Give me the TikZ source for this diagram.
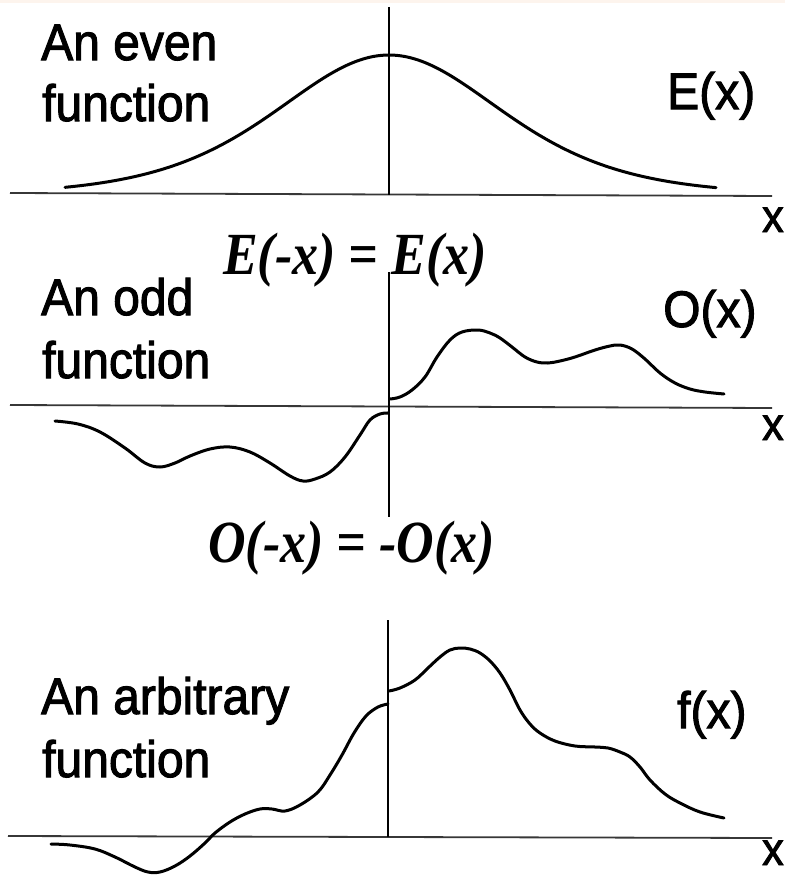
\documentclass[tikz,border=0pt]{standalone}
\usepackage{fontspec}
\setmainfont{Liberation Serif}
\newfontfamily\helv[FakeBold=2]{Liberation Sans}
\newfontfamily\tnr{Liberation Serif}
\definecolor{axisgray}{RGB}{55,55,55}
\definecolor{peach}{RGB}{253,244,237}
\begin{document}
\begin{tikzpicture}[x=1pt,y=-1pt,
  lab/.style={font=\helv\fontsize{48}{48}\selectfont, inner sep=0pt, anchor=base west, yscale=1.07},
  xlab/.style={font=\helv\fontsize{43}{43}\selectfont, inner sep=0pt, anchor=base west, yscale=1.07},
  eqlab/.style={font=\tnr\bfseries\itshape\fontsize{52}{52}\selectfont, inner sep=0pt, anchor=base, yscale=1.15},
  curve/.style={line width=3pt, line join=round, line cap=round},
  haxis/.style={line width=1.8pt, draw=axisgray},
  vaxis/.style={line width=1.2pt, draw=black}]
\useasboundingbox (0,0) rectangle (785,875);
\fill[white] (0,0) rectangle (785,875);
\fill[peach] (0,0) rectangle (785,3.5);

% ---------- Panel 1: even function ----------
\coordinate (o1) at (389,195);
\coordinate (a1l) at (10,193);
\coordinate (a1r) at (772,196);
\coordinate (v1t) at (389,7);
\draw[haxis] (a1l) -- (a1r);
\draw[vaxis] (v1t) -- (o1);
\draw[curve] plot[domain=65:716, samples=140, smooth]
  (\x, {195 - 560/(exp((\x-389)/152)+exp(-(\x-389)/152))^2});
\node[lab] (even1) at (41,60) {An even};
\node[lab] (even2) at (42,121) {function};
\node[lab] (Ex) at (667,109) {E(x)};
\node[xlab] (x1) at (762,232) {x};
\node[eqlab] (eqE) at (355,274) {E(-x) = E(x)};

% ---------- Panel 2: odd function ----------
\coordinate (o2) at (389,406);
\coordinate (a2l) at (10,405);
\coordinate (a2r) at (772,408);
\coordinate (v2t) at (389,272);
\coordinate (v2b) at (389,517);
\draw[haxis] (a2l) -- (a2r);
\draw[vaxis] (v2t) -- (v2b);
\draw[curve] plot[smooth, tension=0.6] coordinates {
  (390,399) (400,397) (412,390) (425,377) (437,357) (450,340) (462,332)
  (478,330) (490,333) (500,338) (512,347) (525,357) (537,362) (548,363)
  (560,361) (575,357) (595,350) (610,346) (620,345) (632,349) (645,359)
  (660,373) (675,383) (690,389) (705,392) (724,394)};
\draw[curve] plot[smooth, tension=0.6] coordinates {
  (388,413) (380,414) (370,420) (360,435) (345,457) (330,472) (315,479)
  (303,481) (290,476) (270,463) (250,452) (230,447) (210,449) (190,456)
  (175,463) (160,467) (145,463) (125,448) (100,432) (78,424) (55,421)};
\node[lab] (odd1) at (41,315) {An odd};
\node[lab] (odd2) at (42,378) {function};
\node[lab] (Ox) at (663,327) {O(x)};
\node[xlab] (x2) at (762,440) {x};
\node[eqlab] (eqO) at (351.5,562) {O(-x) = -O(x)};

% ---------- Panel 3: arbitrary function ----------
\coordinate (o3) at (388,837);
\coordinate (a3l) at (8,836);
\coordinate (a3r) at (772,838);
\coordinate (v3t) at (388,620);
\draw[haxis] (a3l) -- (a3r);
\draw[vaxis] (v3t) -- (o3);
\draw[curve] plot[smooth, tension=0.6] coordinates {
  (389,691) (400,688) (415,680) (428,668) (440,657) (450,650) (460,648)
  (470,649) (480,653) (490,661) (500,673) (510,690) (520,710) (530,724)
  (540,733) (555,741) (575,746) (595,747) (608,748) (620,752) (630,757)
  (640,767) (650,780) (665,794) (680,803) (700,812) (724,818)};
\draw[curve] plot[smooth, tension=0.6] coordinates {
  (388,704) (378,707) (366,716) (354,733) (342,755) (330,775) (318,792)
  (300,805) (285,811) (272,809) (260,809) (245,814) (230,822) (215,833)
  (205,843) (190,856) (175,866) (160,872) (148,872) (135,867) (115,857)
  (95,849) (70,845) (51,844)};
\node[lab] (arb1) at (41,714) {An arbitrary};
\node[lab] (arb2) at (42,777) {function};
\node[lab] (fx) at (677,728) {f(x)};
\node[xlab] (x3) at (762,865) {x};
\end{tikzpicture}
\end{document}
